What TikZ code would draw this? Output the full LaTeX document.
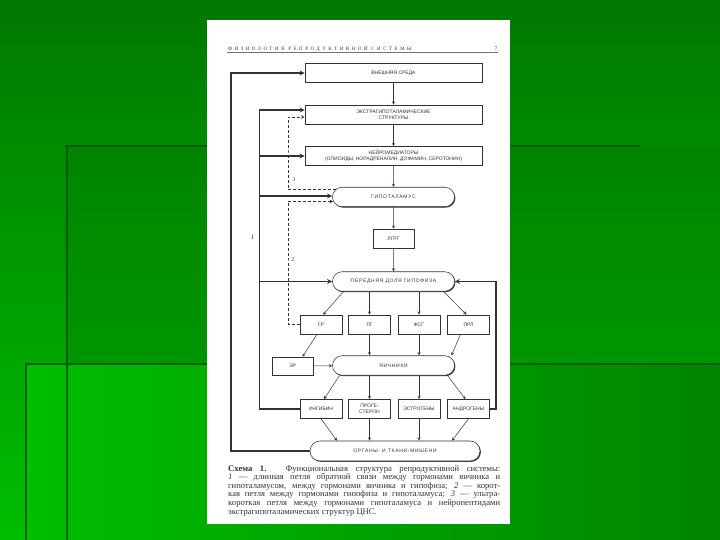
\documentclass[tikz,border=0pt]{standalone}
\usepackage{fontspec}
\setmainfont{Liberation Serif}
\setsansfont{Liberation Sans}
\newfontfamily\spacedsans[LetterSpace=14]{Liberation Sans}
\newfontfamily\headfont[LetterSpace=50]{Liberation Serif}
\usetikzlibrary{shapes.misc,shadows}

\definecolor{bgtop}{RGB}{0,120,0}
\definecolor{bgbot}{RGB}{0,190,0}
\definecolor{bgmid}{RGB}{0,132,0}
\definecolor{bglow}{RGB}{0,165,0}
\definecolor{bgdark}{RGB}{0,95,0}
\definecolor{ink}{RGB}{50,50,50}

\newcommand\boxfont{\sffamily\fontsize{5}{5.8}\selectfont}
\newcommand\pillfont{\spacedsans\fontsize{5}{6}\selectfont}
\newcommand\capline[1]{\makebox[272pt][s]{#1}}

\begin{document}
\begin{tikzpicture}[x=1pt,y=-1pt,
    box/.style={rectangle, draw=ink, fill=white, line width=0.55pt, minimum width=177pt, minimum height=19pt, inner sep=1pt, align=center, text=ink, font=\boxfont,
      drop shadow={shadow xshift=0.9pt, shadow yshift=-0.9pt, fill=ink, opacity=1}},
    hbox/.style={box, minimum width=42pt},
    pill/.style={rounded rectangle, draw=ink, fill=white, line width=0.55pt, minimum width=124pt, minimum height=19.5pt, inner sep=1pt, text=ink, font=\pillfont,
      drop shadow={shadow xshift=0.9pt, shadow yshift=-0.9pt, fill=ink, opacity=1}},
    arrow/.style={->, >=stealth, line width=0.5pt, ink},
    fb/.style={->, >=stealth, line width=1.3pt, ink},
    short/.style={->, >=stealth, densely dashed, line width=0.7pt, ink},
    num/.style={font=\fontsize{5.5}{6}\selectfont, text=ink, inner sep=0pt},
  ]
\useasboundingbox (0,0) rectangle (720,540);

% background of the slide
\shade[top color=bgtop, bottom color=bgbot] (0,0) rectangle (720,540);
\shade[top color=bgmid, bottom color=bglow] (65,146) rectangle (720,540);
\shade[left color=bgbot, right color=bgmid] (25,364) rectangle (720,540);
\draw[bgdark, line width=2.5pt] (65,146) -- (640,146);
\draw[bgdark, line width=1.5pt] (67,146) -- (67,540);
\draw[bgdark, line width=2.5pt] (25,364) -- (720,364);
\draw[bgdark, line width=1.5pt] (26,364) -- (26,540);

% the page
\fill[white] (207,20.5) rectangle (510,524);
\node[font=\headfont\fontsize{5}{6}\selectfont, text=ink, anchor=south west, inner sep=1pt] (title) at (227,52.5) {ФИЗИОЛОГИЯ РЕПРОДУКТИВНОЙ СИСТЕМЫ};
\node[num] (pg) at (496,49) {7};
\draw[black!55, line width=0.5pt] (title.south west) -- (title.south west -| pg.east);

% main chain
\node[box] (env) at (393.5,73) {ВНЕШНЯЯ СРЕДА};
\node[box] (extra) at (393.5,114.5) {ЭКСТРАГИПОТАЛАМИЧЕСКИЕ\\СТРУКТУРЫ};
\node[box] (neuro) at (393.5,156) {НЕЙРОМЕДИАТОРЫ\\(ОПИОИДЫ, НОРАДРЕНАЛИН, ДОФАМИН, СЕРОТОНИН)};
\node[pill] (hypo) at (393.5,197) {ГИПОТАЛАМУС};
\node[hbox, minimum width=41pt] (lhrh) at (393.5,238.5) {ЛГРГ};
\node[pill] (pit) at (393.5,281.5) {ПЕРЕДНЯЯ ДОЛЯ ГИПОФИЗА};

\node[hbox] (gr) at (321,324.5) {ГР};
\node[hbox] (lg) at (369.5,324.5) {ЛГ};
\node[hbox] (fsg) at (419,324.5) {ФСГ};
\node[hbox] (prl) at (468.5,324.5) {ПРЛ};

\node[hbox, minimum width=41pt, minimum height=18pt] (er) at (292.5,366) {ЭР};
\node[pill] (ovary) at (393.5,365.5) {ЯИЧНИКИ};

\node[hbox] (inh) at (321,409) {ИНГИБИН};
\node[hbox] (prog) at (369.5,409) {ПРОГЕ-\\СТЕРОН};
\node[hbox] (estr) at (419,409) {ЭСТРОГЕНЫ};
\node[hbox] (andr) at (468.5,409) {АНДРОГЕНЫ};

\node[pill, minimum width=172pt, minimum height=20pt] (organs) at (395,451) {ОРГАНЫ- И ТКАНИ-МИШЕНИ};

\draw[arrow] (env) -- (extra);
\draw[arrow] (extra) -- (neuro);
\draw[arrow] (neuro) -- (hypo);
\draw[arrow] (hypo) -- (lhrh);
\draw[arrow] (lhrh) -- (pit);

\draw[arrow] ([shift={(-50,0)}]pit.south) -- ([shift={(2,0)}]gr.north);
\draw[arrow] (pit.south -| lg) -- (lg.north);
\draw[arrow] (pit.south -| fsg) -- (fsg.north);
\draw[arrow] ([shift={(50,0)}]pit.south) -- ([shift={(-2,0)}]prl.north);

\draw[arrow] ([shift={(-4,0)}]gr.south) -- ([shift={(10,0)}]er.north);
\draw[arrow] (lg.south) -- (lg.south |- ovary.north);
\draw[arrow] (fsg.south) -- (fsg.south |- ovary.north);
\draw[arrow] ([shift={(-8,0)}]prl.south) -- ([shift={(58,0)}]ovary.north);
\draw[arrow] (er) -- (ovary);

\draw[arrow] ([shift={(-54,0)}]ovary.south) -- ([shift={(3,0)}]inh.north);
\draw[arrow] (ovary.south -| prog) -- (prog.north);
\draw[arrow] (ovary.south -| estr) -- (estr.north);
\draw[arrow] ([shift={(54,0)}]ovary.south) -- ([shift={(-3,0)}]andr.north);

\draw[arrow] (inh.south) -- ([shift={(-58,0)}]organs.north);
\draw[arrow] (prog.south) -- (prog.south |- organs.north);
\draw[arrow] (estr.south) -- (estr.south |- organs.north);
\draw[arrow] (andr.south) -- ([shift={(57,0)}]organs.north);

% feedback loops
\coordinate (l1) at (231,300);
\coordinate (l2) at (259.5,300);
\coordinate (l3) at (288,150);
\coordinate (l4) at (288,260);
\coordinate (r1) at (496,350);

\draw[fb] (organs.west) -| (l1) |- (env.west);
\draw[fb] (inh.west) -| (l2) |- ([shift={(0,-4.5)}]extra.west);
\draw[fb] (l2 |- neuro.west) -- (neuro.west);
\draw[fb] ([shift={(0,-1)}]l2 |- hypo.west) -- ([shift={(0,-1)}]hypo.west);
\draw[fb] (l2 |- pit.west) -- (pit.west);
\draw[fb] (andr.east) -| (r1) |- (pit.east);

\draw[short] ([shift={(4,-7.5)}]hypo.west) -| (l3) |- ([shift={(0,2.5)}]extra.west);
\draw[short] (gr.west) -| (l4) |- ([shift={(1,4.5)}]hypo.west);

\node[num, font=\itshape\fontsize{7}{8}\selectfont] (n1) at (252.5,237.5) {1};
\node[num] (n2) at (293,260) {2};
\node[num] (n3) at (294,180) {3};

% caption
\node[anchor=north west, inner sep=0pt, align=left, text=ink, font=\fontsize{8.6}{8.6}\selectfont] (cap) at (228,465) {%
\capline{\textbf{Схема 1.} Функциональная структура репродуктивной системы:}\\
\capline{\textit{1} — длинная петля обратной связи между гормонами яичника и}\\
\capline{гипоталамусом, между гормонами яичника и гипофиза; \textit{2} — корот-}\\
\capline{кая петля между гормонами гипофиза и гипоталамуса; \textit{3} — ультра-}\\
\capline{короткая петля между гормонами гипоталамуса и нейропептидами}\\
экстрагипоталамических структур ЦНС.};
\end{tikzpicture}
\end{document}
